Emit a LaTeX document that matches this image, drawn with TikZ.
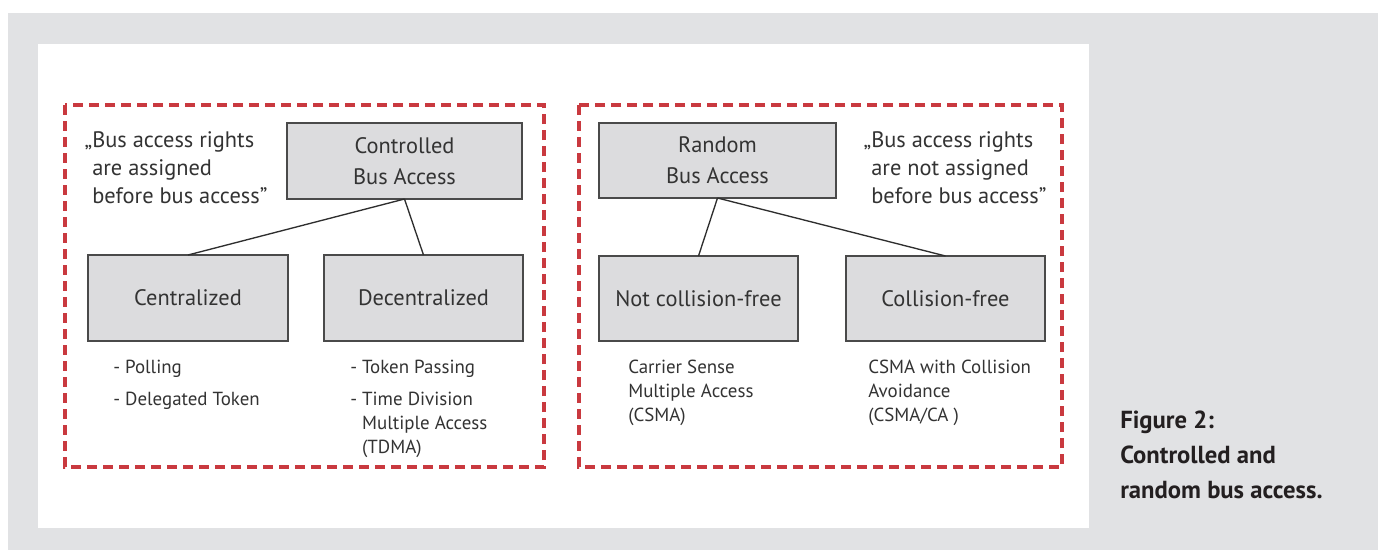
\documentclass[tikz,border=0pt]{standalone}
\usepackage{fontspec}
\setmainfont{PT Sans}
\definecolor{bggrey}{HTML}{E1E2E4}
\definecolor{boxfill}{HTML}{DCDCDE}
\definecolor{boxline}{HTML}{4A4A4A}
\definecolor{zonered}{HTML}{C9393F}
\definecolor{ink}{HTML}{333333}
\definecolor{capink}{HTML}{231F20}
% left-aligned text block whose baseline is that of its first line
\newcommand{\lines}[1]{\begin{tabular}[t]{@{}l@{}}#1\end{tabular}}
\begin{document}
\begin{tikzpicture}[x=0.75pt,y=-0.75pt,
  zone/.style={draw=zonered,line width=2.6pt,dash pattern=on 7.5pt off 4.5pt},
  box/.style={draw=boxline,fill=boxfill,line width=1.1pt,outer sep=0pt,inner sep=0pt,
    align=center,text=ink,font=\fontsize{16.8}{23.25}\selectfont},
  link/.style={draw=ink!90!black,line width=1pt},
  quote/.style={anchor=base west,inner sep=0pt,text=ink,
    font=\fontsize{16.8}{21}\selectfont},
  list/.style={anchor=base west,inner sep=0pt,text=ink,
    font=\fontsize{14.2}{18}\selectfont},
  caption/.style={anchor=base west,inner sep=0pt,text=capink,
    font=\fontsize{18.5}{26.25}\selectfont\bfseries}]
  % page and panel
  \fill[white] (0,0) rectangle (1378,550);
  \useasboundingbox (0,0) rectangle (1378,550);
  \fill[bggrey] (8,13) rectangle (1378,550);
  \fill[white] (38,44) rectangle (1089,528);
  % the two groups
  \draw[zone] (65,105) rectangle (544,467);
  \draw[zone] (579,105) rectangle (1062,467);
  % controlled access
  \node[box,minimum width=235*0.75pt,minimum height=76*0.75pt] (ctrl) at (404.5,161) {Controlled\\Bus Access};
  \node[box,minimum width=200*0.75pt,minimum height=86*0.75pt] (cent) at (188,298) {Centralized};
  \node[box,minimum width=199*0.75pt,minimum height=86*0.75pt] (dec) at (423.5,298) {Decentralized};
  \draw[link] (ctrl.south) -- (cent.north);
  \draw[link] (ctrl.south) -- (dec.north);
  \node[quote] (qctrl) at (92,147) {\lines{\llap{„}Bus access rights\\are assigned\\before bus access”}};
  \node[list] (lcent) at (113,373) {\lines{- Polling\\[6pt]- Delegated Token}};
  \node[list] (ldec) at (350,373) {\lines{- Token Passing\\[6pt]- Time Division\\\hphantom{- }Multiple Access\\\hphantom{- }(TDMA)}};
  % random access
  \node[box,minimum width=237*0.75pt,minimum height=75*0.75pt] (rand) at (717.5,160.5) {Random\\Bus Access};
  \node[box,minimum width=199*0.75pt,minimum height=85*0.75pt] (ncf) at (698.5,298.5) {Not collision-free};
  \node[box,minimum width=199*0.75pt,minimum height=85*0.75pt] (cf) at (945.5,298.5) {Collision-free};
  \draw[link] (rand.south) -- (ncf.north);
  \draw[link] (rand.south) -- (cf.north);
  \node[quote] (qrand) at (871,147) {\lines{\llap{„}Bus access rights\\are not assigned\\before bus access”}};
  \node[list] (lncf) at (628,373) {\lines{Carrier Sense\\Multiple Access\\(CSMA)}};
  \node[list] (lcf) at (868,373) {\lines{CSMA with Collision\\Avoidance\\(CSMA/CA )}};
  % caption
  \node[caption] (cap) at (1120,428) {\lines{Figure 2:\\Controlled and\\random bus access.}};
\end{tikzpicture}
\end{document}
